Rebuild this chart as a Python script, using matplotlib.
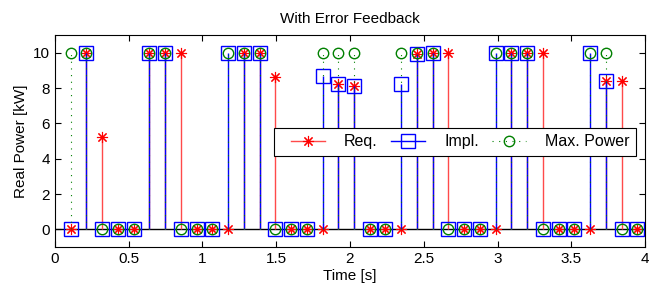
import numpy as np
import matplotlib
matplotlib.use("Agg")
import matplotlib.pyplot as plt
from matplotlib.legend_handler import HandlerLine2D

plt.rcParams['font.family'] = ['Liberation Sans', 'DejaVu Sans']

# sample period (37 samples over ~4 s)
dt = 0.1067
time = dt * np.arange(1, 38)

req = [0, 10, 5.2, 0, 0, 10, 10, 10, 0, 0,
       0, 10, 10, 8.6, 0, 0, 0, 8.2, 8.1, 0,
       0, 0, 9.9, 10, 10, 0, 0, 0, 10, 10,
       10, 0, 0, 0, 8.4, 8.4, 0]
impl = [0, 10, 0, 0, 0, 10, 10, 0, 0, 0,
        10, 10, 10, 0, 0, 0, 8.7, 8.2, 8.1, 0,
        0, 8.2, 9.9, 10, 0, 0, 0, 10, 10, 10,
        0, 0, 0, 10, 8.4, 0, 0]
max_power = [10, 10, 0, 0, 0, 10, 10, 0, 0, 0,
             10, 10, 10, 0, 0, 0, 10, 10, 10, 0,
             0, 10, 10, 10, 0, 0, 0, 10, 10, 10,
             0, 0, 0, 10, 10, 0, 0]

red = '#ff0000'
red_line = '#ff4a4a'
blue = '#0000ff'
green = '#008000'
star = (8, 2, 0)


class EndMarker(HandlerLine2D):
    # matlab style legend: line starts a bit in, marker sits at the right end
    def __init__(self, offset=0.0, **kw):
        super().__init__(**kw)
        self.offset = offset

    def get_xdata(self, legend, xdescent, ydescent, width, height, fontsize):
        x0 = -xdescent + self.offset * fontsize
        x1 = -xdescent + width
        return np.array([x0, x1]), np.array([x1])


fig = plt.figure(figsize=(6.64, 2.91), dpi=100)
ax = fig.add_axes([0.0828, 0.1512, 0.8886, 0.7285])

ax.axhline(0, color='k', lw=1, zorder=1)

# Req.
m, s, b = ax.stem(time, req)
s.set_color(red_line); s.set_linewidth(1.0)
m.set_marker(star); m.set_color(red); m.set_markersize(8); m.set_markeredgewidth(0.8)
b.set_visible(False)

# Impl.
m2, s2, b2 = ax.stem(time, impl)
s2.set_color(blue); s2.set_linewidth(1.0)
m2.set_marker('s'); m2.set_markersize(10.6); m2.set_markerfacecolor('none')
m2.set_markeredgecolor(blue); m2.set_markeredgewidth(1.0)
b2.set_visible(False)

# Max. Power
m3, s3, b3 = ax.stem(time, max_power)
s3.set_color(green); s3.set_linewidth(0.8); s3.set_linestyle((0, (1, 5)))
m3.set_marker('o'); m3.set_markersize(7.5); m3.set_markerfacecolor('none')
m3.set_markeredgecolor(green); m3.set_markeredgewidth(1.0)
b3.set_visible(False)

ax.set_xlim(0, 4)
ax.set_ylim(-1, 11)
ax.set_xticks(np.arange(0, 4.01, 0.5))
ax.set_xticklabels(['0', '0.5', '1', '1.5', '2', '2.5', '3', '3.5', '4'])
ax.set_yticks([0, 2, 4, 6, 8, 10])
ax.tick_params(direction='in', top=True, right=True, length=4, labelsize=11, width=0.8)
for sp in ax.spines.values():
    sp.set_linewidth(0.8)

ax.set_title('With Error Feedback', fontsize=11, pad=9)
ax.set_xlabel('Time [s]', fontsize=11, labelpad=2)
ax.set_ylabel('Real Power [kW]', fontsize=11, labelpad=4)

h1 = plt.Line2D([], [], color=red_line, lw=1.0, marker=star, markersize=8,
                markeredgewidth=0.8, markeredgecolor=red)
h2 = plt.Line2D([], [], color=blue, lw=1.0, marker='s', markersize=10.6,
                markerfacecolor='none', markeredgecolor=blue)
h3 = plt.Line2D([], [], color=green, lw=0.8, linestyle=(0, (1, 5)), marker='o', markersize=7.5,
                markerfacecolor='none', markeredgecolor=green)
leg = ax.legend([h1, h2, h3], ['Req.', 'Impl.', 'Max. Power'], ncol=3,
                loc='upper right', bbox_to_anchor=(0.985, 0.561), borderaxespad=0,
                fontsize=11.5, handlelength=2.8, handletextpad=1.2, columnspacing=0.15,
                fancybox=False, framealpha=1, edgecolor='k',
                handler_map={plt.Line2D: EndMarker(offset=0.68, numpoints=1)})
leg.get_frame().set_linewidth(0.8)

fig.savefig('out.png', dpi=100)
